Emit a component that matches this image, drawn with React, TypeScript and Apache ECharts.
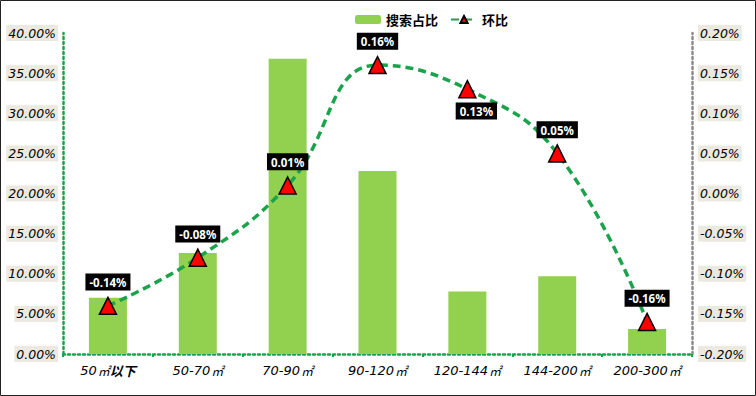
import React, { useEffect, useRef } from "react";
import * as echarts from "echarts";

const categories = ["50㎡以下", "50-70㎡", "70-90㎡", "90-120㎡", "120-144㎡", "144-200㎡", "200-300㎡"];
const searchShare = [7.0, 12.6, 36.8, 22.8, 7.8, 9.7, 3.1];
const ringRatio = [-0.14, -0.08, 0.01, 0.16, 0.13, 0.05, -0.16];
const leftTicks = { min: 0, max: 40, interval: 5 };
const rightTicks = { min: -0.2, max: 0.2, interval: 0.05 };

const axisFont = "'Comic Sans MS', 'DejaVu Sans', sans-serif";

export default function App() {
  const ref = useRef<HTMLDivElement>(null);
  useEffect(() => {
    document.body.style.margin = "0";
    const chart = echarts.init(ref.current!, null, { renderer: "svg" });
    const lineData = ringRatio.map((v, i) =>
      i === 4
        ? { value: v, label: { position: "bottom", offset: [9, -2] } }
        : { value: v }
    );
    chart.setOption({
      animation: false,
      backgroundColor: "#fff",
      graphic: [
        {
          type: "rect",
          shape: { x: 0.5, y: 0.5, width: 755, height: 395 },
          style: { fill: "none", stroke: "#222", lineWidth: 1 },
          silent: true,
        },
      ],
      legend: {
        top: 8,
        left: 350,
        itemWidth: 26,
        itemHeight: 9,
        itemGap: 12,
        textStyle: { fontSize: 13, fontWeight: "bold", color: "#000", fontFamily: "'Noto Sans CJK SC', sans-serif" },
        data: [{ name: "搜索占比" }, { name: "环比" }],
      },
      grid: { left: 63, right: 64, top: 33, bottom: 42 },
      xAxis: {
        type: "category",
        data: categories,
        axisLine: { lineStyle: { color: "#1aa34a", type: [2, 3], width: 2.5 } },
        axisTick: { show: true, length: 3, lineStyle: { color: "#1aa34a", width: 2 } },
        axisLabel: {
          interval: 0,
          hideOverlap: false,
          color: "#000",
          fontSize: 13,
          fontStyle: "italic",
          fontFamily: axisFont,
          margin: 10,
          formatter: (v: string) => {
            const parts = v.split("㎡");
            return "{a|" + parts[0] + "}{b|㎡}" + (parts[1] ? "{c|" + parts[1] + "}" : "");
          },
          rich: {
            a: { fontSize: 13, fontStyle: "italic", fontFamily: axisFont, color: "#000" },
            b: { fontSize: 12, fontFamily: "'Noto Sans CJK SC', sans-serif", color: "#000", padding: [0, 0, 0, 1] },
            c: { fontSize: 13, fontWeight: "bold", fontFamily: "'Noto Sans CJK SC', sans-serif", color: "#000" },
          },
        },
      },
      yAxis: [
        {
          type: "value",
          min: leftTicks.min,
          max: leftTicks.max,
          interval: leftTicks.interval,
          splitLine: { show: false },
          axisLine: { show: true, lineStyle: { color: "#1aa34a", type: [2, 3], width: 2.5 } },
          axisTick: { show: false },
          axisLabel: {
            color: "#000",
            fontSize: 12.5,
            fontStyle: "italic",
            fontFamily: axisFont,
            backgroundColor: "#ece9e0",
            padding: [2, 2, 1, 2],
            margin: 5,
            formatter: (v: number) => v.toFixed(2) + "%",
          },
        },
        {
          type: "value",
          min: rightTicks.min,
          max: rightTicks.max,
          interval: rightTicks.interval,
          splitLine: { show: false },
          axisLine: { show: true, lineStyle: { color: "#8a8a8a", type: [2, 3], width: 2.5 } },
          axisTick: { show: false },
          axisLabel: {
            color: "#000",
            fontSize: 12.5,
            fontStyle: "italic",
            fontFamily: axisFont,
            backgroundColor: "#ece9e0",
            padding: [2, 2, 1, 2],
            margin: 6,
            formatter: (v: number) => v.toFixed(2) + "%",
          },
        },
      ],
      series: [
        {
          name: "搜索占比",
          type: "bar",
          data: searchShare,
          barWidth: 38,
          itemStyle: { color: "#92d050" },
          z: 1,
        },
        {
          name: "环比",
          type: "line",
          yAxisIndex: 1,
          data: lineData,
          smooth: 0.45,
          symbol: "triangle",
          symbolSize: 17,
          lineStyle: { color: "#1aa34a", width: 3.5, type: [8, 5] },
          itemStyle: { color: "#ff0000", borderColor: "#000", borderWidth: 1.5 },
          label: {
            show: true,
            position: "top",
            distance: 6,
            formatter: (p: any) => p.value.toFixed(2) + "%",
            backgroundColor: "#000",
            color: "#fff",
            fontWeight: "bold",
            fontSize: 11.5,
            fontFamily: "'Noto Sans', sans-serif",
            padding: [3, 4, 2, 4],
          },
          z: 3,
        },
      ],
    });
    return () => chart.dispose();
  }, []);
  return <div ref={ref} style={{ width: 756, height: 396 }} />;
}
